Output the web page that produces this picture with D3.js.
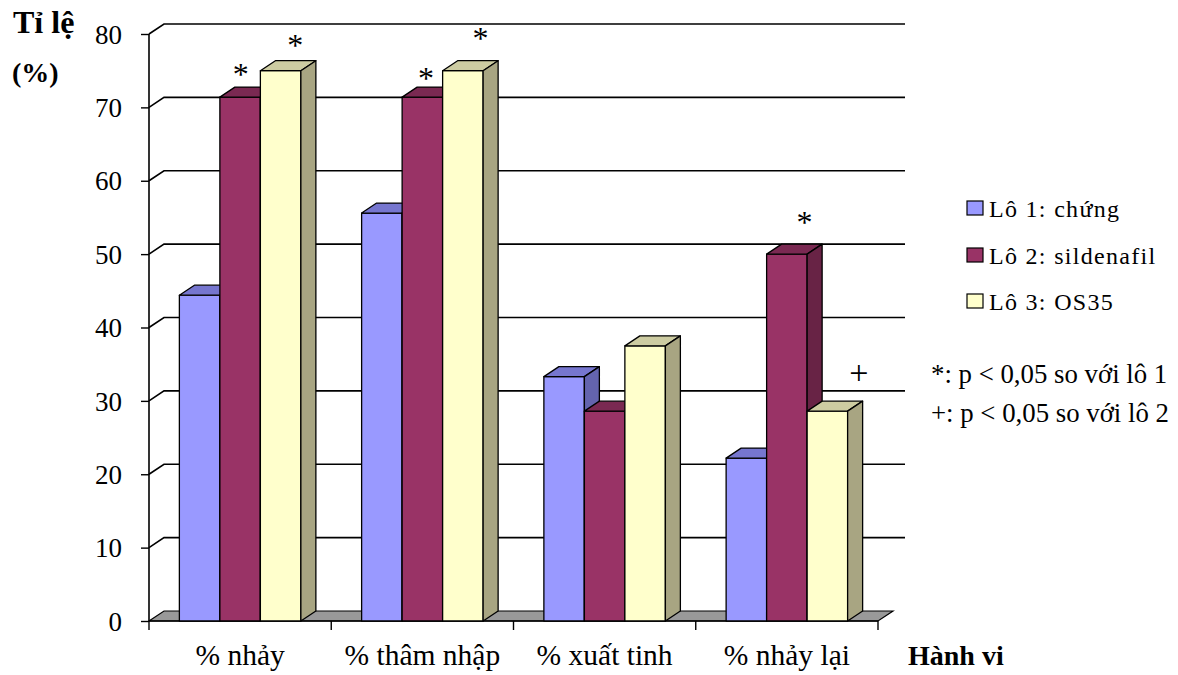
<!DOCTYPE html>
<html>
<head>
<meta charset="utf-8">
<script src="https://cdn.jsdelivr.net/npm/d3@7"></script>
<style>
  html, body { margin: 0; padding: 0; background: #ffffff; }
  svg { display: block; }
  svg text { font-family: "Liberation Serif", "Times New Roman", "DejaVu Serif", serif; }
</style>
</head>
<body>
<svg id="chart" width="1178" height="675"></svg>
<script>
// Behaviour categories and the three groups
const categories = ["% nhảy", "% thâm nhập", "% xuất tinh", "% nhảy lại"];
const seriesNames = ["Lô 1: chứng", "Lô 2: sildenafil", "Lô 3: OS35"];
const lo1Values = [44.4, 55.6, 33.3, 22.2];
const lo2Values = [71.4, 71.4, 28.6, 50.0];
const lo3Values = [75.0, 75.0, 37.5, 28.6];
const yTicks = [0, 10, 20, 30, 40, 50, 60, 70, 80];

// Significance marks: category index, series index, symbol
const sigCategory = [0, 0, 1, 1, 3, 3];
const sigSeries = [1, 2, 1, 2, 1, 2];
const sigSymbol = ["*", "*", "*", "*", "*", "+"];

const footnotes = ["*: p < 0,05 so với lô 1", "+: p < 0,05 so với lô 2"];

// ---- layout ----
const FONT = "'Liberation Serif', 'Times New Roman', serif";
const svg = d3.select("#chart");
const plotLeft = 149, plotRight = 878, plotBase = 621, plotTop = 34;
const depthX = 15, depthY = 10;      // oblique depth of the 3D box
const wallRight = 905;

const faces = [
  { front: "#9999ff", top: "#7676cf", side: "#6464ae" },
  { front: "#993366", top: "#7a2952", side: "#682345" },
  { front: "#ffffcc", top: "#cdcca2", side: "#a8a582" }
];

const values = [lo1Values, lo2Values, lo3Values];

const y = d3.scaleLinear().domain([0, 80]).range([plotBase, plotTop]);
const x = d3.scaleBand().domain(categories).range([plotLeft, plotRight]).paddingInner(0).paddingOuter(0);
const xs = d3.scaleBand().domain(d3.range(seriesNames.length)).range([0, x.bandwidth()])
  .paddingInner(0).paddingOuter(0.75);

// back-wall gridlines with the side-wall connectors
const grid = svg.append("g").attr("stroke", "#000").attr("stroke-width", 1.6).attr("fill", "none");
yTicks.filter(t => t > 0).forEach(t => {
  grid.append("path")
    .attr("d", `M${plotLeft},${y(t)}L${plotLeft + depthX},${y(t) - depthY}L${wallRight},${y(t) - depthY}`);
});

// floor
svg.append("path")
  .attr("d", `M${plotLeft},${plotBase}L${plotLeft + depthX},${plotBase - depthY}L${plotRight + depthX},${plotBase - depthY}L${plotRight},${plotBase}Z`)
  .attr("fill", "#999999").attr("stroke", "#000").attr("stroke-width", 1.2);

// value axis (front edge) using d3 axis for ticks
const yAxis = svg.append("g").attr("transform", `translate(${plotLeft},0)`)
  .call(d3.axisLeft(y).tickValues(yTicks).tickSize(8).tickPadding(19).tickFormat(d3.format("d")));
yAxis.attr("font-family", FONT);
yAxis.select(".domain").attr("stroke", "#000").attr("stroke-width", 1.6).attr("d", `M0,${plotBase}V${plotTop}`);
yAxis.selectAll(".tick line").attr("stroke", "#000").attr("stroke-width", 1.4);
yAxis.selectAll(".tick text")
  .attr("font-family", FONT).attr("font-size", 27).attr("fill", "#000")
  .attr("dy", "0.34em");

// category axis (front floor edge)
const xAxis = svg.append("g").attr("transform", `translate(0,${plotBase})`)
  .call(d3.axisBottom(x).tickSize(0).tickPadding(0).tickFormat(""));
xAxis.select(".domain").attr("stroke", "#000").attr("stroke-width", 1.4).attr("d", `M${plotLeft},0H${plotRight}`);
xAxis.selectAll(".tick").remove();
const bounds = categories.map(c => x(c)).concat([plotRight]);
svg.append("g").selectAll("line").data(bounds).join("line")
  .attr("x1", d => d).attr("x2", d => d).attr("y1", plotBase).attr("y2", plotBase + 9)
  .attr("stroke", "#000").attr("stroke-width", 1.4);

svg.append("g").selectAll("text").data(categories).join("text")
  .attr("x", d => x(d) + x.bandwidth() / 2).attr("y", 665)
  .attr("font-family", FONT)
  .attr("text-anchor", "middle").attr("font-size", 29.5).attr("fill", "#000")
  .text(d => d);

// 3D columns, painted left to right so right neighbours cover side faces
const bw = xs.bandwidth();
const barsG = svg.append("g").attr("stroke", "#000").attr("stroke-width", 1.3).attr("stroke-linejoin", "round");
categories.forEach((c, ci) => {
  seriesNames.forEach((s, si) => {
    const v = values[si][ci];
    const x0 = x(c) + xs(si), x1 = x0 + bw;
    const yt = y(v), yb = y(0);
    const g = barsG.append("g");
    g.append("path").attr("fill", faces[si].front)
      .attr("d", `M${x0},${yb}V${yt}H${x1}V${yb}Z`);
    g.append("path").attr("fill", faces[si].top)
      .attr("d", `M${x0},${yt}L${x0 + depthX},${yt - depthY}H${x1 + depthX}L${x1},${yt}Z`);
    g.append("path").attr("fill", faces[si].side)
      .attr("d", `M${x1},${yb}V${yt}L${x1 + depthX},${yt - depthY}V${yb - depthY}Z`);
  });
});

// significance symbols above the columns
const sigNudge = [[-7, -18], [7, -21], [-4, -14], [10, -28], [10, -27], [24, -28]];
svg.append("g").selectAll("text").data(sigSymbol).join("text")
  .attr("x", (d, i) => x(categories[sigCategory[i]]) + xs(sigSeries[i]) + bw / 2 + depthX / 2 + sigNudge[i][0])
  .attr("y", (d, i) => y(values[sigSeries[i]][sigCategory[i]]) - depthY + sigNudge[i][1] + (d === "+" ? 11 : 16))
  .attr("font-family", FONT)
  .attr("text-anchor", "middle").attr("font-size", d => d === "+" ? 34 : 32).attr("fill", "#000")
  .text(d => d);

// axis titles
svg.append("text").attr("x", 13).attr("y", 33).attr("font-family", FONT)
  .attr("font-size", 32).attr("font-weight", "bold").text("Tỉ lệ");
svg.append("text").attr("x", 12).attr("y", 82).attr("font-family", FONT)
  .attr("font-size", 28).attr("font-weight", "bold").text("(%)");
svg.append("text").attr("x", 908).attr("y", 665).attr("font-family", FONT)
  .attr("font-size", 28).attr("font-weight", "bold").text("Hành vi");

// legend
const legend = svg.append("g");
const legendRows = [208, 255, 301];
seriesNames.forEach((s, i) => {
  legend.append("rect").attr("x", 967).attr("y", legendRows[i] - 7).attr("width", 16).attr("height", 14)
    .attr("fill", faces[i].front).attr("stroke", "#000").attr("stroke-width", 1.2);
  legend.append("text").attr("x", 989).attr("y", legendRows[i] + 8.5).attr("font-family", FONT)
    .attr("font-size", 24).attr("letter-spacing", 1.3).attr("fill", "#000").text(s);
});

// footnotes
svg.append("g").selectAll("text").data(footnotes).join("text")
  .attr("x", 931).attr("y", (d, i) => 383 + i * 38.5).attr("font-family", FONT)
  .attr("font-size", 26.8).attr("fill", "#000").text(d => d);
</script>
</body>
</html>
